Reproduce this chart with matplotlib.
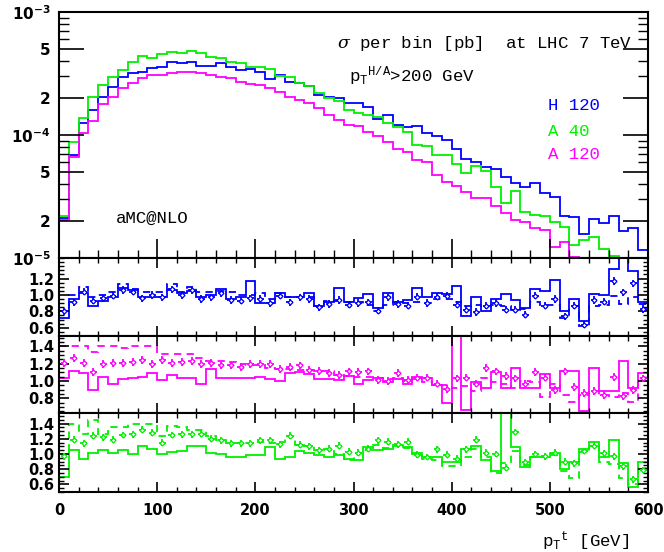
import numpy as np
import matplotlib.pyplot as plt
from matplotlib.ticker import MultipleLocator, FixedLocator, FixedFormatter, NullFormatter

plt.rcParams['font.family'] = 'DejaVu Sans'
plt.rcParams['font.weight'] = 'bold'
plt.rcParams['mathtext.fontset'] = 'custom'
plt.rcParams['mathtext.it'] = 'DejaVu Serif:style=italic:weight=normal'
plt.rcParams['mathtext.rm'] = 'Liberation Mono:weight=normal'
plt.rcParams['mathtext.bf'] = 'DejaVu Sans:weight=bold'

# 10 GeV bins from 0 to 600
edges = np.arange(0, 610, 10)
centers = edges[:-1] + 5

# sigma per bin, in units of 1e-5 pb
h120 = [2.11, 6.88, 12.45, 15.97, 20.25, 24.7, 29.8, 32.1, 32.7, 35.05,
        35.5, 39.4, 38.3, 39.4, 36.4, 36.4, 38.3, 35.5, 33.8, 34.2,
        32.7, 28.4, 30.7, 27.1, 26.6, 25.0, 21.1, 20.5, 19.9, 18.3,
        18.1, 16.8, 13.4, 14.5, 12.06, 11.7, 11.8, 10.4, 9.8, 9.1,
        7.65, 6.34, 6.07, 5.52, 5.26, 4.58, 4.05, 3.80, 4.05, 3.40,
        3.11, 2.20, 2.17, 1.57, 2.06, 1.94, 2.20, 1.67, 1.74, 1.16]
a40 = [2.20, 8.82, 13.67, 20.25, 25.5, 29.6, 33.8, 39.2, 43.9, 42.3,
       45.3, 47.0, 46.2, 48.2, 46.7, 43.3, 42.0, 39.4, 38.7, 35.9,
       35.5, 34.2, 30.2, 29.8, 26.3, 25.0, 22.1, 19.9, 19.0, 15.97,
       15.0, 14.5, 13.9, 12.6, 11.7, 10.6, 8.29, 8.14, 6.88, 6.88,
       5.81, 4.88, 5.60, 5.13, 3.80, 2.82, 3.51, 2.38, 2.24, 2.20,
       1.97, 1.80, 1.28, 1.40, 1.47, 1.18, 1.04, 0.5, 0.5, 0.5]
a120 = [2.04, 6.66, 10.3, 13.1, 17.9, 20.25, 24.0, 26.6, 28.9, 30.7,
        30.7, 31.7, 32.5, 32.5, 31.7, 30.7, 29.8, 28.9, 27.1, 26.0,
        25.5, 24.0, 22.5, 20.25, 19.3, 18.1, 16.5, 14.5, 13.2, 12.06,
        11.8, 10.6, 9.8, 8.82, 7.65, 7.31, 6.26, 6.07, 4.73, 4.15,
        3.85, 3.44, 3.08, 3.08, 2.65, 2.32, 2.04, 1.96, 1.75, 1.69,
        1.23, 1.35, 1.02, 0.5, 0.5, 0.5, 0.5, 0.5, 0.5, 0.5]

# ratio panels: solid, dashed, points
h120_solid = [0.72, 0.95, 1.02, 0.87, 0.93, 0.97, 1.08, 1.06, 0.97, 0.97,
              0.98, 1.06, 1.02, 1.05, 0.97, 1.0, 1.07, 0.95, 0.97, 1.17,
              0.9, 0.9, 1.02, 0.98, 0.97, 1.02, 0.87, 0.92, 1.08, 0.92,
              0.96, 1.01, 0.84, 1.02, 0.92, 0.94, 1.08, 0.97, 1.02, 1.01,
              1.11, 0.74, 0.97, 0.81, 0.95, 1.01, 0.94, 0.84, 1.07, 1.05,
              1.18, 0.81, 0.95, 0.68, 1.01, 1.0, 1.31, 1.8, 1.29, 0.92]
h120_dash = [0.80, 1.0, 1.1, 0.98, 1.0, 1.03, 1.13, 1.07, 1.03, 1.03,
             1.04, 1.13, 1.04, 1.1, 1.04, 1.04, 1.05, 1.04, 1.0, 1.0,
             1.02, 0.95, 1.02, 0.97, 0.97, 0.98, 0.87, 0.93, 0.93, 0.92,
             0.92, 0.88, 0.80, 0.88, 0.92, 0.9, 0.92, 0.9, 0.95, 0.95,
             0.92, 0.86, 0.88, 0.86, 0.88, 0.86, 0.82, 0.83, 0.92, 0.88,
             0.88, 0.72, 0.87, 0.62, 0.87, 0.88, 0.99, 0.89, 0.98, 0.89]
h120_pts = [0.8, 0.91, 1.04, 0.93, 0.96, 0.99, 1.06, 1.04, 0.96, 1.0,
            0.97, 1.07, 1.0, 1.06, 0.95, 0.97, 1.02, 0.94, 0.93, 0.96,
            0.95, 0.9, 0.99, 0.91, 0.97, 0.95, 0.85, 0.89, 0.94, 0.88,
            0.90, 0.91, 0.81, 0.97, 0.89, 0.87, 0.98, 0.90, 0.98, 0.99,
            0.88, 0.82, 0.79, 0.87, 0.90, 0.82, 0.82, 0.76, 0.99, 0.87,
            0.95, 0.74, 0.87, 0.64, 0.94, 0.92, 1.17, 1.03, 1.14, 0.83]

a120_solid = [1.03, 1.11, 1.09, 0.9, 1.05, 0.97, 1.02, 1.04, 1.05, 1.09,
              1.01, 1.07, 1.04, 1.03, 0.96, 1.14, 1.03, 1.03, 1.04, 1.04,
              1.05, 1.02, 1.0, 1.09, 1.10, 1.08, 1.02, 1.02, 1.01, 1.06,
              0.97, 1.01, 1.04, 0.99, 1.02, 0.96, 1.05, 1.04, 0.95, 0.75,
              1.8, 0.67, 0.99, 0.92, 1.10, 0.92, 1.15, 0.92, 0.92, 1.08,
              0.92, 1.11, 1.11, 0.65, 1.15, 0.89, 0.88, 1.23, 0.92, 1.09]
a120_dash = [1.41, 1.40, 1.40, 1.33, 1.41, 1.41, 1.38, 1.41, 1.41, 1.41,
             1.31, 1.31, 1.31, 1.31, 1.26, 1.23, 1.23, 1.22, 1.2, 1.18,
             1.18, 1.15, 1.14, 1.14, 1.13, 1.13, 1.11, 1.11, 1.07, 1.06,
             1.05, 1.05, 1.04, 1.02, 1.03, 1.0, 1.02, 0.99, 0.95, 0.95,
             0.92, 0.94, 0.89, 1.04, 0.99, 0.97, 0.92, 1.0, 0.99, 0.81,
             0.97, 0.84, 0.76, 0.84, 0.88, 0.84, 0.82, 0.86, 0.76, 1.03]
a120_pts = [1.21, 1.27, 1.21, 1.1, 1.2, 1.21, 1.21, 1.22, 1.24, 1.2,
            1.24, 1.21, 1.22, 1.23, 1.2, 1.21, 1.18, 1.18, 1.16, 1.2,
            1.2, 1.2, 1.14, 1.16, 1.18, 1.13, 1.12, 1.09, 1.07, 1.11,
            1.10, 1.11, 1.01, 1.0, 1.09, 1.01, 1.04, 1.04, 0.97, 0.91,
            1.03, 1.04, 0.97, 1.15, 1.11, 1.06, 1.03, 0.97, 1.10, 1.04,
            0.90, 1.11, 0.93, 0.86, 0.88, 0.84, 1.05, 0.83, 0.90, 1.03]

a40_solid = [0.70, 1.05, 0.94, 1.01, 1.05, 1.01, 1.05, 1.0, 1.1, 1.07,
             1.0, 1.03, 1.04, 1.11, 1.11, 1.02, 1.0, 0.96, 0.96, 0.99,
             0.99, 1.09, 0.94, 0.96, 1.04, 1.01, 0.99, 0.96, 0.99, 0.93,
             0.92, 1.09, 1.05, 1.06, 1.12, 1.09, 1.01, 0.96, 0.96, 0.90,
             0.90, 1.06, 1.10, 0.92, 0.78, 1.8, 1.09, 0.83, 0.96, 0.96,
             1.02, 0.80, 0.89, 1.07, 1.16, 0.96, 1.18, 0.88, 0.57, 0.90]
a40_dash = [1.0, 1.39, 1.26, 1.45, 1.26, 1.35, 1.36, 1.40, 1.39, 1.40,
            1.24, 1.37, 1.36, 1.31, 1.31, 1.24, 1.19, 1.14, 1.14, 1.14,
            1.16, 1.15, 1.16, 1.24, 1.12, 1.1, 1.05, 1.07, 1.0, 0.92,
            1.01, 1.05, 1.12, 1.08, 1.10, 1.08, 1.0, 0.94, 0.92, 0.84,
            0.84, 0.96, 1.07, 0.96, 0.75, 0.88, 1.04, 0.85, 0.96, 0.96,
            0.99, 0.77, 0.68, 1.03, 1.10, 0.90, 0.87, 0.68, 0.61, 0.81]
a40_pts = [0.97, 1.19, 1.14, 1.24, 1.22, 1.19, 1.25, 1.26, 1.32, 1.28,
           1.15, 1.25, 1.26, 1.26, 1.27, 1.2, 1.18, 1.14, 1.14, 1.14,
           1.18, 1.18, 1.13, 1.24, 1.12, 1.1, 1.05, 1.07, 1.11, 1.03,
           1.02, 1.07, 1.18, 1.16, 1.13, 1.16, 0.99, 0.96, 1.06, 0.99,
           0.94, 1.06, 1.19, 1.02, 1.0, 0.82, 1.29, 0.89, 1.0, 0.97,
           1.02, 0.90, 0.88, 1.04, 1.11, 1.01, 0.97, 0.84, 0.67, 0.79]

blue = '#0000ff'
green = '#00f000'
magenta = '#ff00ff'
mono = 'Liberation Mono'
txt = dict(family=mono, fontsize=12.5, fontweight='normal', va='center', ha='left')

fig = plt.figure(figsize=(6.64, 5.52), dpi=100)
L, W = 0.0889, 0.887
ax0 = fig.add_axes([L, 0.5326, W, 0.4457])
ax1 = fig.add_axes([L, 0.3913, W, 0.1413])
ax2 = fig.add_axes([L, 0.2518, W, 0.1395])
ax3 = fig.add_axes([L, 0.1087, W, 0.1431])

# main panel
for vals, c in [(h120, blue), (a40, green), (a120, magenta)]:
    ax0.stairs(np.array(vals) * 1e-5, edges, color=c, lw=1.3, baseline=1e-7)
ax0.set_yscale('log')
ax0.set_ylim(1e-5, 1e-3)
ax0.set_xlim(0, 600)
maj = [1e-5, 2e-5, 5e-5, 1e-4, 2e-4, 5e-4, 1e-3]
ax0.yaxis.set_major_locator(FixedLocator(maj))
ax0.yaxis.set_major_formatter(FixedFormatter(
    [r'$\mathbf{10^{-5}}$', '2', '5', r'$\mathbf{10^{-4}}$', '2', '5', r'$\mathbf{10^{-3}}$']))
mins = [k * 10.0 ** e for e in (-5, -4) for k in (3, 4, 6, 7, 8, 9)]
ax0.yaxis.set_minor_locator(FixedLocator(mins))
ax0.yaxis.set_minor_formatter(NullFormatter())
ax0.tick_params(axis='y', which='major', length=18, width=1.2, direction='in',
                left=True, right=True, labelsize=11, pad=6)
ax0.tick_params(axis='y', which='minor', length=7, width=1.0, direction='in',
                left=True, right=True)
ax0.xaxis.set_major_locator(MultipleLocator(100))
ax0.xaxis.set_minor_locator(MultipleLocator(20))
ax0.tick_params(axis='x', which='major', length=14, width=1.2, direction='in',
                top=False, bottom=True, labelbottom=False)
ax0.tick_params(axis='x', which='minor', length=6, width=1.0, direction='in',
                top=False, bottom=True)

ax0.text(0.472, 0.87, r'$\sigma$ per bin [pb]  at LHC 7 TeV', transform=ax0.transAxes, **txt)
ax0.text(0.492, 0.74, r'p$_\mathregular{T}$$^\mathregular{H/A}$>200 GeV', transform=ax0.transAxes, **txt)
ax0.text(0.83, 0.618, 'H 120', color=blue, transform=ax0.transAxes, **txt)
ax0.text(0.83, 0.516, 'A 40', color=green, transform=ax0.transAxes, **txt)
ax0.text(0.83, 0.419, 'A 120', color=magenta, transform=ax0.transAxes, **txt)
ax0.text(0.097, 0.163, 'aMC@NLO', transform=ax0.transAxes, **txt)

# ratio panels
panels = [
    (ax1, h120_solid, h120_dash, h120_pts, blue, (0.5, 1.45), [0.6, 0.8, 1.0, 1.2]),
    (ax2, a120_solid, a120_dash, a120_pts, magenta, (0.63, 1.52), [0.8, 1.0, 1.2, 1.4]),
    (ax3, a40_solid, a40_dash, a40_pts, green, (0.5, 1.54), [0.6, 0.8, 1.0, 1.2, 1.4]),
]
for ax, s, d, p, c, ylim, labs in panels:
    ax.stairs(s, edges, color=c, lw=1.3, baseline=0)
    ax.stairs(d, edges, color=c, lw=1.3, ls=(0, (4, 3)), baseline=None)
    ax.errorbar(centers, p, xerr=3.5, yerr=0.045, fmt='D', ms=2.5, mfc='white',
                mec=c, mew=0.9, ecolor=c, elinewidth=1.3, capsize=0)
    ax.set_xlim(0, 600)
    ax.set_ylim(*ylim)
    ax.yaxis.set_major_locator(FixedLocator(labs))
    ax.yaxis.set_major_formatter(FixedFormatter(['%.1f' % v for v in labs]))
    ax.yaxis.set_minor_locator(MultipleLocator(0.05))
    ax.xaxis.set_major_locator(MultipleLocator(100))
    ax.xaxis.set_minor_locator(MultipleLocator(20))
    ax.tick_params(axis='both', which='major', direction='in', length=7, width=1.2,
                   top=True, right=True, labelsize=10.5)
    ax.tick_params(axis='both', which='minor', direction='in', length=3.5, width=1.0,
                   top=True, right=True)
    ax.tick_params(axis='x', labelbottom=False)

ax3.tick_params(axis='x', labelbottom=True, pad=8)
ax3.text(0.969, -0.62, r'p$_\mathregular{T}$$^\mathregular{t}$ [GeV]', transform=ax3.transAxes,
         family=mono, fontsize=12.5, fontweight='normal', ha='right', va='center')

for ax in (ax0, ax1, ax2, ax3):
    for sp in ax.spines.values():
        sp.set_linewidth(1.5)

fig.savefig('out.png', dpi=100)
